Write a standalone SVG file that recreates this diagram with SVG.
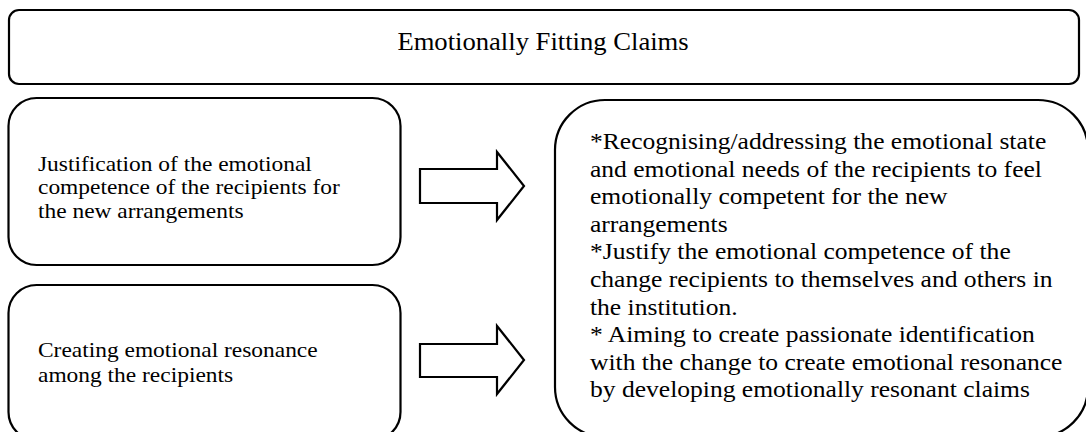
<svg xmlns="http://www.w3.org/2000/svg" width="1086" height="432" viewBox="0 0 1086 432">
<style>
.box{fill:#fff;stroke:#000;stroke-width:2.2}
.arr{fill:#fff;stroke:#000;stroke-width:2.2;stroke-linejoin:miter}
.t{font-family:"Liberation Serif","Times New Roman",serif;fill:#000}
.t22{font-size:22px}
.t24{font-size:24px}
.t25{font-size:25px}
</style>
<rect x="0" y="0" width="1086" height="432" fill="#fff"/>
<g id="title">
<rect class="box" x="9" y="10" width="1070" height="74" rx="10"/>
<text class="t t25" text-anchor="middle" transform="translate(543,50) scale(1.065,1)">Emotionally Fitting Claims</text>
</g>
<g id="left1">
<rect class="box" x="8.5" y="98" width="392" height="167" rx="28"/>
<text class="t t22" transform="translate(38,171) scale(1.065,1)"><tspan x="0" y="0">Justification of the emotional</tspan><tspan x="0" y="23.5">competence of the recipients for</tspan><tspan x="0" y="47">the new arrangements</tspan></text>
</g>
<g id="left2">
<rect class="box" x="8.5" y="285" width="392" height="155" rx="28"/>
<text class="t t22" transform="translate(38,357) scale(1.065,1)"><tspan x="0" y="0">Creating emotional resonance</tspan><tspan x="0" y="25">among the recipients</tspan></text>
</g>
<g id="right">
<rect class="box" x="555" y="100" width="533" height="337" rx="50"/>
<text class="t t24" transform="translate(590,149) scale(1.065,1)"><tspan x="0" y="0">*Recognising/addressing the emotional state</tspan><tspan x="0" y="27.6">and emotional needs of the recipients to feel</tspan><tspan x="0" y="55.2">emotionally competent for the new</tspan><tspan x="0" y="82.8">arrangements</tspan><tspan x="0" y="110.4">*Justify the emotional competence of the</tspan><tspan x="0" y="138">change recipients to themselves and others in</tspan><tspan x="0" y="165.6">the institution.</tspan><tspan x="0" y="193.2">* Aiming to create passionate identification</tspan><tspan x="0" y="220.8">with the change to create emotional resonance</tspan><tspan x="0" y="248.4">by developing emotionally resonant claims</tspan></text>
</g>
<g id="connectors">
<polygon class="arr" points="420,169 497,169 497,152 524,186 497,220 497,203 420,203"/>
<polygon class="arr" points="420,344 497,344 497,326 524,360 497,394 497,377 420,377"/>
</g>
</svg>
